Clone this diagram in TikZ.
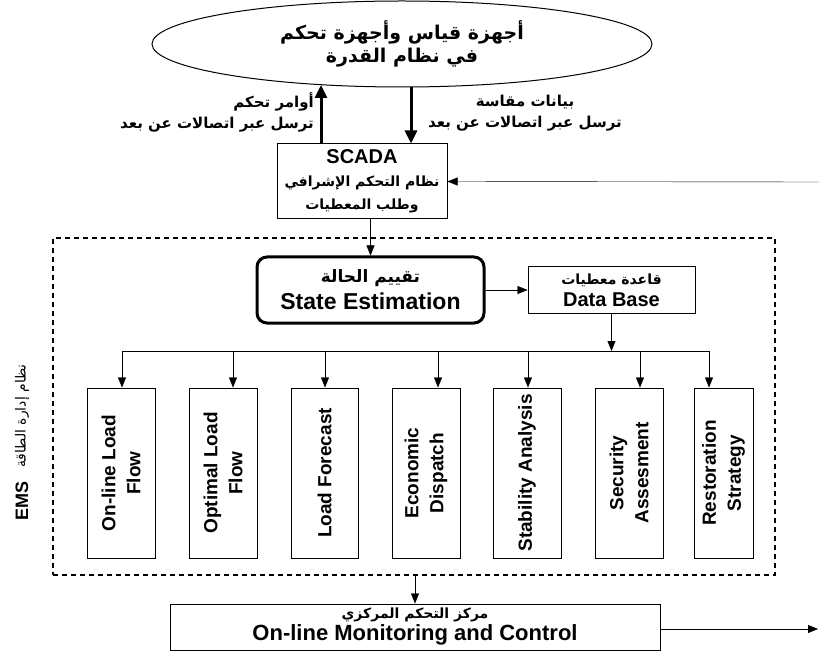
\documentclass[tikz,border=0pt]{standalone}
\usepackage{fontspec}
\setmainfont{Liberation Sans}
\newfontfamily\arabicfont[Script=Arabic]{DejaVu Sans}
\usetikzlibrary{shapes.geometric,arrows.meta}
\TeXXeTstate=1
\newcommand\artxt[1]{{\arabicfont\beginR#1\endR}}

\begin{document}
\begin{tikzpicture}[x=1pt,y=-1pt,>={Triangle[length=10pt,width=8pt]},
  box/.style={draw,line width=1pt,align=center,inner sep=0pt},
  fnbox/.style={box,rotate=90,minimum width=170pt,
    font=\bfseries\fontsize{19}{25}\selectfont},
  lbl/.style={inner sep=0pt,font=\bfseries\fontsize{15}{21}\selectfont},
  bigarrow/.style={->,line width=3pt,>={Triangle[length=13pt,width=12pt]}},
  emsbox/.style={draw,line width=2.5pt,dash pattern=on 5pt off 4pt,
    minimum width=722pt,minimum height=337pt}]
   \useasboundingbox (0,0) rectangle (819,652);

   % measuring and control devices
   \node[ellipse,draw,line width=1pt,minimum width=500pt,minimum height=86pt,
     inner sep=0pt,align=center,font=\bfseries\fontsize{19}{23}\selectfont]
     (meas) at (402,44) {\artxt{أجهزة قياس وأجهزة تحكم}\\\artxt{في نظام القدرة}};

   \node[lbl,anchor=east,align=right] (cmd) at (314,112)
     {\artxt{أوامر تحكم}\\\artxt{ترسل عبر اتصالات عن بعد}};
   \node[lbl,align=center] (dat) at (525,113)
     {\artxt{بيانات مقاسة}\\\artxt{ترسل عبر اتصالات عن بعد}};

   % SCADA
   \node[box,minimum width=170pt,minimum height=75pt,
     font=\bfseries\fontsize{14}{23}\selectfont] (scada) at (362,181.5)
     {{\fontsize{20}{23}\selectfont SCADA}\\\artxt{نظام التحكم الإشرافي}\\\artxt{وطلب المعطيات}};

   \coordinate (cmdtop) at (321,85);
   \coordinate (dattop) at (411,87);
   \draw[bigarrow] (scada.north -| cmdtop) -- (cmdtop);
   \draw[bigarrow] (dattop) -- (scada.north -| dattop);

   \coordinate (in) at (819,182);
   \draw[->] (in) -- (scada.east);

   % EMS
   \node[emsbox] (ems) at (414,406.5) {};
   \node[rotate=90,font=\bfseries\fontsize{18}{20}\selectfont] (emslbl) at (22,501) {EMS};
   \node[rotate=90,font=\fontsize{14}{16}\selectfont] (emsar) at (22,416) {\artxt{نظام إدارة الطاقة}};

   \node[box,rounded corners=10pt,line width=3pt,minimum width=227pt,minimum height=66pt,
     font=\bfseries\fontsize{23}{27}\selectfont] (se) at (370.5,290)
     {{\fontsize{17}{27}\selectfont\artxt{تقييم الحالة}}\\State Estimation};
   \node[box,minimum width=167pt,minimum height=46pt,
     font=\bfseries\fontsize{20}{22}\selectfont] (db) at (611.5,290)
     {{\fontsize{14}{22}\selectfont\artxt{قاعدة معطيات}}\\Data Base};

   \draw[->] (se.north |- scada.south) -- (se.north);
   \draw[->] (se.east) -- (db.west);

   \foreach \n/\x/\w/\a/\t in {olf/121/68/122/{On-line Load\\Flow},
       opf/223/68/233/{Optimal Load\\Flow}, lfc/324.5/67/325/{Load Forecast},
       ecd/426/68/438/{Economic\\Dispatch}, sta/527/68/528/{Stability Analysis},
       sec/629/68/640/{Security\\Assesment}, res/723.5/59/709/{Restoration\\Strategy}}{
     \node[fnbox,minimum height=\w pt] (\n) at (\x,473) {\t};
     \coordinate (t\n) at (\a,351);
     \draw[->] (t\n) -- (t\n |- \n.east);
   }
   \draw (tolf) -- (tres);
   \draw[->] (db.south) -- (db.south |- tolf);

   % control centre
   \node[box,minimum width=490pt,minimum height=46pt,
     font=\bfseries\fontsize{22}{22}\selectfont] (mon) at (415,627)
     {{\fontsize{14}{22}\selectfont\artxt{مركز التحكم المركزي}}\\On-line Monitoring and Control};
   \draw[->] (mon.north |- ems.south) -- (mon.north);

   \coordinate (out) at (818,629);
   \draw[->] (mon.east |- out) -- (out);
\end{tikzpicture}
\end{document}
